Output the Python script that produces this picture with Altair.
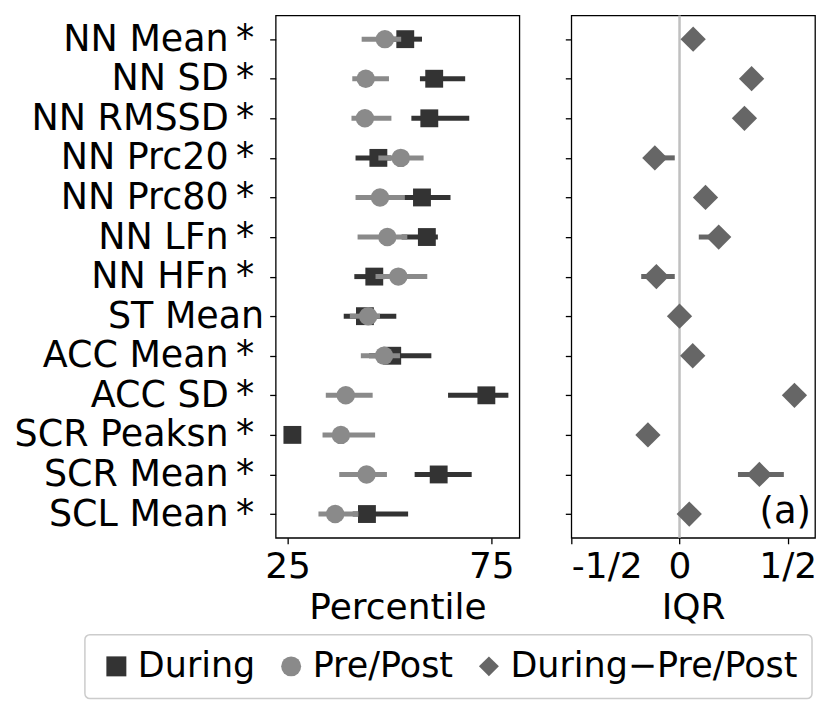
import altair as alt
import pandas as pd

names = ["NN Mean", "NN SD", "NN RMSSD", "NN Prc20", "NN Prc80", "NN LFn", "NN HFn",
         "ST Mean", "ACC Mean", "ACC SD", "SCR Peaksn", "SCR Mean", "SCL Mean"]
significant = [True, True, True, True, True, True, True, False, True, True, True, True, True]

during_med = [53.9, 61.0, 59.8, 47.3, 58.0, 59.2, 46.3, 44.0, 50.7, 73.8, 26.2, 62.1, 44.5]
during_lo = [50.5, 57.5, 55.4, 41.7, 52.0, 53.0, 41.4, 38.8, 45.0, 64.4, 26.2, 56.2, 41.0]
during_hi = [58.0, 68.6, 69.6, 50.5, 65.0, 61.9, 49.0, 51.7, 60.3, 79.2, 26.2, 70.2, 54.6]

pre_med = [48.9, 44.2, 44.0, 52.8, 47.7, 49.5, 52.2, 44.8, 48.7, 39.3, 38.1, 44.4, 36.7]
pre_lo = [43.2, 40.9, 40.7, 47.3, 41.7, 42.2, 46.6, 40.3, 43.0, 34.4, 33.6, 37.7, 32.6]
pre_hi = [52.9, 49.9, 50.5, 58.4, 53.8, 54.4, 59.3, 47.7, 52.6, 45.9, 46.5, 49.4, 42.4]

diff_med = [0.063, 0.333, 0.300, -0.114, 0.120, 0.181, -0.107, 0.0, 0.061, 0.531, -0.146, 0.369, 0.045]
diff_lo = [0.063, 0.333, 0.300, -0.150, 0.120, 0.089, -0.177, 0.0, 0.061, 0.531, -0.146, 0.270, 0.045]
diff_hi = [0.063, 0.333, 0.300, -0.022, 0.120, 0.210, -0.022, 0.0, 0.061, 0.531, -0.146, 0.482, 0.045]

series_names = ["During", "Pre/Post", "During\u2212Pre/Post"]
series_colors = ["#333333", "#8a8a8a", "#666666"]
series_shapes = ["square", "circle", "diamond"]

iqr_ticks = [-0.5, 0, 0.5]
iqr_tick_labels = ["-1/2", "0", "1/2"]

labels = [n + "\u2009*" if s else n for n, s in zip(names, significant)]

rows = []
for lab, m, lo, hi in zip(labels, during_med, during_lo, during_hi):
    rows.append(dict(label=lab, series=series_names[0], med=m, lo=lo, hi=hi))
for lab, m, lo, hi in zip(labels, pre_med, pre_lo, pre_hi):
    rows.append(dict(label=lab, series=series_names[1], med=m, lo=lo, hi=hi))
for lab, m, lo, hi in zip(labels, diff_med, diff_lo, diff_hi):
    rows.append(dict(label=lab, series=series_names[2], med=m, lo=lo, hi=hi))
df = pd.DataFrame(rows)

FONT = "DejaVu Sans"
FS_Y = 36.5
FS = 36
FS_LEG = 35
W, H = 244, 523

cscale = alt.Scale(domain=series_names, range=series_colors)
sscale = alt.Scale(domain=series_names, range=series_shapes)
yscale = alt.Scale(type="point", padding=0.6)

leg = alt.Legend(title=None)
ysort = labels

def enc_points():
    return dict(
        color=alt.Color("series:N", scale=cscale, legend=leg),
        shape=alt.Shape("series:N", scale=sscale, legend=leg),
    )

lscale = alt.Scale(domain=[22.1, 81.9], nice=False, zero=False)
laxis = alt.Axis(values=[25, 75], title="Percentile")
xl = alt.X("med:Q", scale=lscale, axis=laxis)
yl = alt.Y("label:N", sort=ysort, scale=yscale,
           axis=alt.Axis(title=None, labelLimit=400, labelFontSize=FS_Y,
                         labelPadding=alt.condition("datum.value == 'ST Mean'", alt.value(6), alt.value(16))))

base = alt.Chart(df)
d_rule = base.transform_filter(alt.datum.series == series_names[0]).mark_rule(
    color=series_colors[0], strokeWidth=5).encode(
    x=alt.X("lo:Q", scale=lscale, axis=laxis), x2="hi:Q", y=yl)
d_pt = base.transform_filter(alt.datum.series == series_names[0]).mark_point(
    filled=True, opacity=1, size=320).encode(x=xl, y=yl, **enc_points())
p_rule = base.transform_filter(alt.datum.series == series_names[1]).mark_rule(
    color=series_colors[1], strokeWidth=5).encode(x=alt.X("lo:Q"), x2="hi:Q", y=yl)
p_pt = base.transform_filter(alt.datum.series == series_names[1]).mark_point(
    filled=True, opacity=1, size=340).encode(x=xl, y=yl, **enc_points())

left = alt.layer(d_rule, d_pt, p_rule, p_pt).properties(width=W, height=H)

label_expr = " : ".join(
    [f"datum.value == {v} ? '{t}'" for v, t in zip(iqr_ticks, iqr_tick_labels)]) + " : ''"
xr = alt.X("med:Q", scale=alt.Scale(domain=[-0.5, 0.626], nice=False, zero=False),
           axis=alt.Axis(values=iqr_ticks, title="IQR", labelExpr=label_expr))
yr = alt.Y("label:N", sort=ysort, scale=yscale, axis=alt.Axis(title=None, labels=False))

zero = alt.Chart(pd.DataFrame({"med": [0.0]})).mark_rule(
    color="#c0c0c0", strokeWidth=2.5).encode(x=alt.X("med:Q"))
r_rule = base.transform_filter(alt.datum.series == series_names[2]).mark_rule(
    color=series_colors[2], strokeWidth=5).encode(x=alt.X("lo:Q"), x2="hi:Q", y=yr)
r_pt = base.transform_filter(alt.datum.series == series_names[2]).mark_point(
    filled=True, opacity=1, size=640).encode(x=xr, y=yr, **enc_points())
tag = alt.Chart(pd.DataFrame({"t": ["(a)"]})).mark_text(
    font=FONT, fontSize=37, align="right", baseline="alphabetic", color="black").encode(
    text="t:N", x=alt.value(W - 4), y=alt.value(H - 15))

right = alt.layer(zero, r_rule, r_pt, tag).properties(width=W, height=H)

chart = alt.hconcat(left, right, spacing=43).resolve_scale(
    x="independent", y="independent", color="shared", shape="shared"
).configure_view(stroke="black", strokeWidth=1.3).configure_axis(
    labelFont=FONT, labelFontSize=FS, labelColor="black",
    titleFont=FONT, titleFontSize=FS, titleFontWeight="normal", titleColor="black",
    tickColor="black", tickSize=6, tickWidth=1.3, domain=False, grid=False,
    titlePadding=6,
).configure_axisX(labelPadding=6).configure_legend(
    orient="none", legendX=-191, legendY=620, direction="horizontal",
    labelFont=FONT, labelFontSize=FS_LEG, labelColor="black", labelLimit=600,
    strokeColor="#cccccc", strokeWidth=1.5, cornerRadius=5, padding=14,
    columnPadding=18, labelOffset=4, symbolStrokeWidth=0, symbolSize=400,
)

chart.save("out.html", embed_options={"renderer": "svg", "actions": False})
